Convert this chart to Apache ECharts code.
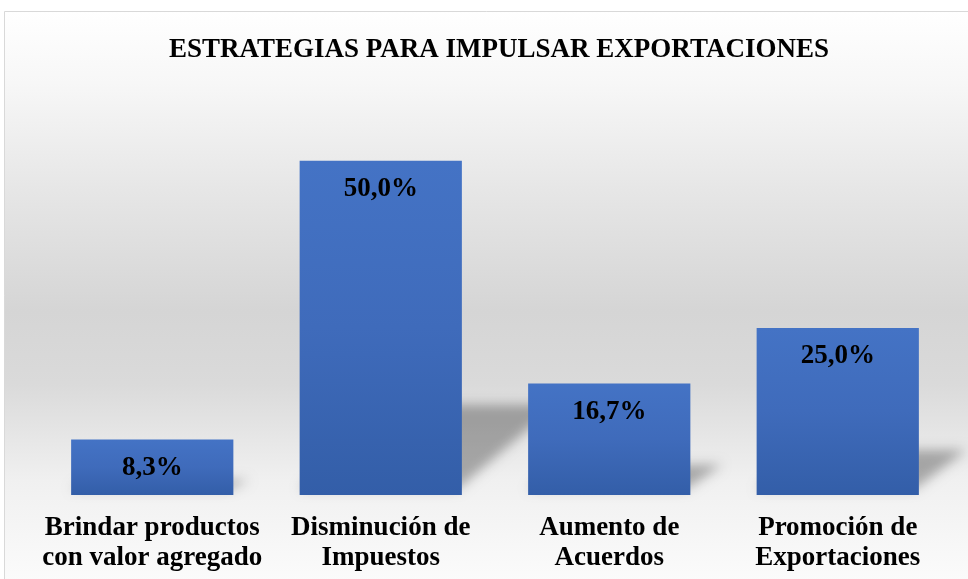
<!DOCTYPE html>
<html>
<head>
<meta charset="utf-8">
<script src="https://cdn.jsdelivr.net/npm/echarts@6/dist/echarts.min.js"></script>
<style>
html,body{margin:0;padding:0;background:#fff;}
#chart{width:968px;height:579px;}
</style>
</head>
<body>
<div id="chart"></div>
<script>
const titleText = 'ESTRATEGIAS PARA IMPULSAR EXPORTACIONES';
const categories = [
  'Brindar productos\ncon valor agregado',
  'Disminución de\nImpuestos',
  'Aumento de\nAcuerdos',
  'Promoción de\nExportaciones'
];
const values = [8.3, 50.0, 16.7, 25.0];

const chart = echarts.init(document.getElementById('chart'), null, {renderer: 'canvas'});
const serif = '"Liberation Serif", "Times New Roman", serif';
const BAR_RATIO = 0.71;
const OFF = 3000;

const option = {
  backgroundColor: '#ffffff',
  animation: false,
  graphic: [{
    type: 'rect',
    z: -10,
    silent: true,
    shape: {x: 4.5, y: 11.5, width: 1000, height: 600},
    style: {
      stroke: '#d9d9d9',
      lineWidth: 1,
      fill: new echarts.graphic.LinearGradient(0, 0, 0, 1, [
        {offset: 0, color: '#ffffff'},
        {offset: 0.12, color: '#f7f7f7'},
        {offset: 0.3, color: '#e6e6e6'},
        {offset: 0.5, color: '#d5d5d5'},
        {offset: 0.62, color: '#dadada'},
        {offset: 0.78, color: '#f0f0f0'},
        {offset: 0.95, color: '#fbfbfb'},
        {offset: 1, color: '#fcfcfc'}
      ])
    }
  }],
  title: {
    text: titleText,
    left: 494,
    textAlign: 'center',
    top: 32,
    textStyle: {fontFamily: serif, fontWeight: 'bold', fontSize: 27, color: '#000'}
  },
  grid: {left: 38, right: 16, top: 94, bottom: 84, containLabel: false},
  xAxis: {
    type: 'category',
    data: categories,
    axisLine: {show: false},
    axisTick: {show: false},
    axisLabel: {
      margin: 18,
      interval: 0,
      fontFamily: serif,
      fontWeight: 'bold',
      fontSize: 27,
      lineHeight: 30,
      color: '#000'
    }
  },
  yAxis: {
    type: 'value',
    min: 0,
    max: 60,
    show: false,
    splitLine: {show: false}
  },
  series: [
    {
      type: 'custom',
      z: 1,
      silent: true,
      clip: false,
      data: values.map((v, i) => [i, v]),
      renderItem: function (params, api) {
        const idx = api.value(0);
        const val = api.value(1);
        const base = api.coord([idx, 0]);
        const top = api.coord([idx, val]);
        const band = api.size([1, 0])[0];
        const w = band * BAR_RATIO;
        const x0 = base[0] - w / 2 + OFF;
        const x1 = base[0] + w / 2 + OFF;
        const yb = base[1];
        const h = yb - top[1];
        const rise = h * 0.27;
        const dx = rise * 1.05;
        return {
          type: 'polygon',
          shape: {points: [[x0, yb - 6], [x1 - 4, yb - 6], [x1 + dx, yb - rise], [x0 + dx, yb - rise]]},
          style: {
            fill: '#000',
            shadowBlur: 12,
            shadowOffsetX: -OFF,
            shadowOffsetY: 0,
            shadowColor: 'rgba(0,0,0,0.3)'
          }
        };
      }
    },
    {
      type: 'bar',
      z: 2,
      data: values,
      barWidth: (BAR_RATIO * 100) + '%',
      itemStyle: {
        color: new echarts.graphic.LinearGradient(0, 0, 0, 1, [
          {offset: 0, color: '#4473c5'},
          {offset: 0.5, color: '#3f6bbb'},
          {offset: 1, color: '#335ea8'}
        ])
      },
      label: {
        show: true,
        position: 'insideTop',
        distance: 15,
        fontFamily: serif,
        fontWeight: 'bold',
        fontSize: 27,
        color: '#000',
        formatter: function (p) { return p.value.toFixed(1).replace('.', ',') + '%'; }
      }
    }
  ]
};
chart.setOption(option);
</script>
</body>
</html>
